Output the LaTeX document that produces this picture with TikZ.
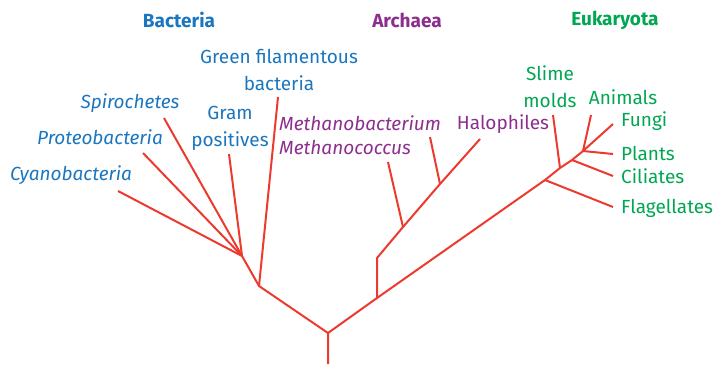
\documentclass[tikz,border=0pt]{standalone}
\usepackage{fontspec}
\setmainfont{Fira Sans}
\usepackage{tikz}
\definecolor{TreeRed}{HTML}{EC3A2E}
\definecolor{TreeBlue}{HTML}{1B76BE}
\definecolor{TreePurple}{HTML}{8C2E8E}
\definecolor{TreeGreen}{HTML}{00A651}

\begin{document}
\begin{tikzpicture}[x=1pt,y=-1pt,
  branch/.style={TreeRed,line width=2pt,line join=round},
  taxon/.style={font=\fontsize{19}{27}\selectfont,inner sep=0pt},
  species/.style={font=\fontsize{19}{24}\selectfont\itshape,inner sep=0pt},
  domainlabel/.style={font=\fontsize{19}{20}\selectfont\bfseries,inner sep=0pt}]
\path[use as bounding box] (0,0) rectangle (717,364);
% junctions
\coordinate (root) at (328,364);
\coordinate (fork) at (328,333);
\coordinate (bac) at (259,286);
\coordinate (bacin) at (242,256);
\coordinate (arc) at (377,298);
\coordinate (arcup) at (377,258);
\coordinate (mcoc) at (403,227);
\coordinate (mbac) at (440,184);
\coordinate (flag) at (545,180);
\coordinate (slime) at (560,168);
\coordinate (cil) at (572,160);
\coordinate (plant) at (583,151);
% leaf ends
\coordinate (cyanoE) at (118,191);
\coordinate (proteoE) at (143,153);
\coordinate (spiroE) at (164,118);
\coordinate (gramE) at (229,154);
\coordinate (greenE) at (278,97);
\coordinate (mcocE) at (388,162);
\coordinate (mbacE) at (430,137);
\coordinate (haloE) at (480,139);
\coordinate (slimeE) at (553,115);
\coordinate (animE) at (591,115);
\coordinate (fungiE) at (613,124);
\coordinate (plantE) at (613,154);
\coordinate (cilE) at (613,176);
\coordinate (flagE) at (613,207);
% bacteria
\draw[branch] (root) -- (fork) -- (bac) -- (bacin) -- (cyanoE);
\draw[branch] (bacin) -- (proteoE);
\draw[branch] (bacin) -- (spiroE);
\draw[branch] (bacin) -- (gramE);
\draw[branch] (bac) -- (greenE);
% archaea
\draw[branch] (fork) -- (arc) -- (arcup) -- (mcoc) -- (mbac) -- (haloE);
\draw[branch] (mcoc) -- (mcocE);
\draw[branch] (mbac) -- (mbacE);
% eukaryota
\draw[branch] (arc) -- (flag) -- (slime) -- (cil) -- (plant) -- (fungiE);
\draw[branch] (flag) -- (flagE);
\draw[branch] (slime) -- (slimeE);
\draw[branch] (cil) -- (cilE);
\draw[branch] (plant) -- (plantE);
\draw[branch] (plant) -- (animE);
% labels
\node[domainlabel,TreeBlue] (bacteria) at (179,20) {Bacteria};
\node[domainlabel,TreePurple] (archaea) at (407,20) {Archaea};
\node[domainlabel,TreeGreen] (eukaryota) at (615,20) {Eukaryota};
\node[taxon,TreeBlue,align=center] (green) at (279,70) {Green filamentous\\bacteria};
\node[taxon,TreeBlue,align=center] (gram) at (230,128) {Gram\\positives};
\node[species,TreeBlue] (spiro) at (130,103) {Spirochetes};
\node[species,TreeBlue] (proteo) at (100,137) {Proteobacteria};
\node[species,TreeBlue] (cyano) at (71,175) {Cyanobacteria};
\node[species,TreePurple,align=left,anchor=west] (methano) at (279,135) {Methanobacterium\\Methanococcus};
\node[taxon,TreePurple] (halo) at (503,124) {Halophiles};
\node[taxon,TreeGreen,align=center] (slimemolds) at (550,87) {Slime\\molds};
\node[taxon,TreeGreen] (animals) at (623,97) {Animals};
\node[taxon,TreeGreen,anchor=west] (fungi) at (621,121) {Fungi};
\node[taxon,TreeGreen,anchor=west] (plants) at (621,153) {Plants};
\node[taxon,TreeGreen,anchor=west] (ciliates) at (621,176) {Ciliates};
\node[taxon,TreeGreen,anchor=west] (flagellates) at (621,208) {Flagellates};
\end{tikzpicture}
\end{document}
